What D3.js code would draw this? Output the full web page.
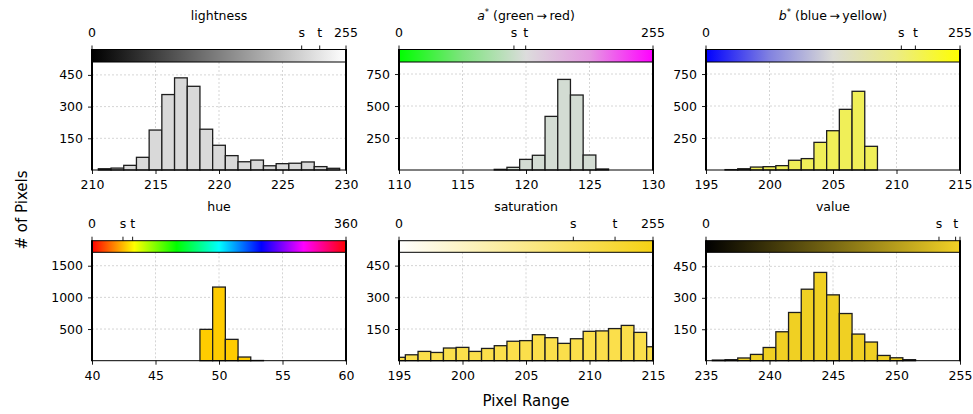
<!DOCTYPE html>
<html>
<head>
<meta charset="utf-8">
<script src="https://cdn.jsdelivr.net/npm/d3@7"></script>
<style>
  body { margin: 0; background: #fff; }
  text { font-family: "DejaVu Sans", sans-serif; fill: #000; }
</style>
</head>
<body>
<svg class="entry-point"></svg>
<script>
/* data: one histogram per channel, bins of width 1 centred on integers */
const titles = ['lightness', 'a*', 'b*', 'hue', 'saturation', 'value']
const xRanges = [[210, 230], [110, 130], [195, 215], [40, 60], [195, 215], [235, 255]]
const xTicks = [
  [210, 215, 220, 225, 230], [110, 115, 120, 125, 130], [195, 200, 205, 210, 215],
  [40, 45, 50, 55, 60], [195, 200, 205, 210, 215], [235, 240, 245, 250, 255]
]
const yMax = [511, 844, 844, 1712, 513, 517]
const yTicks = [[150, 300, 450], [250, 500, 750], [250, 500, 750], [500, 1000, 1500], [150, 300, 450], [150, 300, 450]]
const firstBin = [211, 118, 197, 49, 195, 236]
const lightnessCounts = [6, 9, 22, 60, 189, 357, 436, 396, 193, 117, 68, 39, 47, 20, 30, 32, 38, 16, 8]
const aCounts = [5, 21, 83, 115, 419, 708, 586, 117, 8]
const bCounts = [3, 10, 23, 26, 34, 76, 89, 216, 307, 474, 615, 185]
const hueCounts = [495, 1163, 337, 58, 3]
const saturationCounts = [16, 28, 44, 39, 60, 63, 44, 58, 71, 92, 95, 123, 109, 82, 104, 139, 141, 152, 167, 134, 66]
const valueCounts = [3, 5, 13, 30, 63, 138, 230, 341, 421, 314, 225, 127, 89, 25, 14, 5]
const counts = [lightnessCounts, aCounts, bCounts, hueCounts, saturationCounts, valueCounts]
// colour bar range and the s / t markers on it
const barMax = [255, 255, 255, 360, 255, 255]
const barMaxLabels = ['255', '255', '255', '360', '255', '']
const sValues = [210.5, 115.4, 196.1, 43.9, 175, 233.9]
const tValues = [228.6, 127.2, 210.2, 57.6, 216.9, 250.6]
const fills = ['#d9d9d9', '#d3dcd3', '#f0ef58', '#ffcc00', '#fbdf4b', '#f0d023']
const gradients = [
  ['#000000', '#ffffff'],
  ['#00ff00', '#7fe37f', '#dcdcdc', '#e59ae2', '#ff00ff'],
  ['#0000ff', '#8282e0', '#dcdcd6', '#ecec84', '#ffff00'],
  ['#ff0000', '#ffff00', '#00ff00', '#00ffff', '#0000ff', '#ff00ff', '#ff0000'],
  ['#ffffff', '#f6d214'],
  ['#000000', '#f3d226']
]

const W = 973, H = 414
const cols = [[92, 346], [399, 653], [706, 960]]
const rows = [
  { title: 20, labels: 36.5, cbTop: 49.5, top: 62, bottom: 170, xlab: 188.5 },
  { title: 211, labels: 228, cbTop: 240.7, top: 252.3, bottom: 360.7, xlab: 380.5 }
]

const root = d3.select('.entry-point')
  .attr('width', W)
  .attr('height', H)
const defs = root.append('defs')

titles.forEach((title, i) => {
  const [x0, x1] = cols[i % 3]
  const r = rows[Math.floor(i / 3)]
  const g = root.append('g')
  const x = d3.scaleLinear().domain(xRanges[i]).range([x0, x1])
  const y = d3.scaleLinear().domain([0, yMax[i]]).range([r.bottom, r.top])
  const cx = d3.scaleLinear().domain([0, barMax[i]]).range([x0, x1])

  // grid
  g.append('g').selectAll('line').data(xTicks[i].slice(1, -1)).enter().append('line')
    .attr('x1', d => x(d)).attr('x2', d => x(d)).attr('y1', r.top).attr('y2', r.bottom)
    .attr('stroke', '#b8b8b8').attr('stroke-width', 0.6).attr('stroke-dasharray', '2,2')
  g.append('g').selectAll('line').data(yTicks[i]).enter().append('line')
    .attr('x1', x0).attr('x2', x1).attr('y1', d => y(d)).attr('y2', d => y(d))
    .attr('stroke', '#b8b8b8').attr('stroke-width', 0.6).attr('stroke-dasharray', '2,2')

  // bars
  defs.append('clipPath').attr('id', 'clip' + i).append('rect')
    .attr('x', x0).attr('y', r.top - 2).attr('width', x1 - x0).attr('height', r.bottom - r.top + 4)
  g.append('g').attr('clip-path', `url(#clip${i})`)
    .selectAll('rect').data(counts[i]).enter().append('rect')
    .attr('x', (d, k) => x(firstBin[i] + k - 0.5))
    .attr('width', (d, k) => x(firstBin[i] + k + 0.5) - x(firstBin[i] + k - 0.5))
    .attr('y', d => y(d))
    .attr('height', d => y(0) - y(d))
    .attr('fill', fills[i])
    .attr('stroke', '#1e1e1e')
    .attr('stroke-width', 1.3)

  // axes
  const xAxis = g.append('g').attr('transform', `translate(0,${r.bottom})`)
    .call(d3.axisBottom(x).tickValues(xTicks[i]).tickSize(4).tickPadding(4))
  const yAxis = g.append('g').attr('transform', `translate(${x0},0)`)
    .call(d3.axisLeft(y).tickValues(yTicks[i]).tickFormat(d3.format('d')).tickSize(4).tickPadding(5))
  ;[xAxis, yAxis].forEach(a => {
    a.select('.domain').remove()
    a.selectAll('line').attr('stroke', '#000').attr('stroke-width', 0.9)
    a.selectAll('text').attr('font-size', '12.5px').attr('font-family', '"DejaVu Sans", sans-serif')
  })
  xAxis.selectAll('text').attr('dy', null).attr('y', r.xlab - r.bottom)

  // colour bar
  const grad = defs.append('linearGradient').attr('id', 'grad' + i)
  grad.selectAll('stop').data(gradients[i]).enter().append('stop')
    .attr('offset', (d, k) => k / (gradients[i].length - 1))
    .attr('stop-color', d => d)
  g.append('rect')
    .attr('x', x0).attr('y', r.cbTop).attr('width', x1 - x0).attr('height', r.top - r.cbTop)
    .attr('fill', `url(#grad${i})`).attr('stroke', '#000').attr('stroke-width', 1)

  const marks = [[0, '0'], [sValues[i], 's'], [tValues[i], 't'], [barMax[i], barMaxLabels[i]]]
  g.append('g').selectAll('line').data(marks).enter().append('line')
    .attr('x1', d => cx(d[0])).attr('x2', d => cx(d[0]))
    .attr('y1', r.cbTop).attr('y2', r.cbTop - 4)
    .attr('stroke', '#000').attr('stroke-width', 0.9)
  g.append('g').selectAll('text').data(marks.filter(d => d[1])).enter().append('text')
    .attr('x', d => cx(d[0])).attr('y', r.labels)
    .attr('text-anchor', 'middle').attr('font-size', '12.5px')
    .text(d => d[1])

  // spines
  g.append('line').attr('x1', x0).attr('x2', x1).attr('y1', r.bottom).attr('y2', r.bottom)
    .attr('stroke', '#000').attr('stroke-width', 1)
  g.selectAll('.spine').data([x0, x1]).enter().append('line')
    .attr('x1', d => d).attr('x2', d => d).attr('y1', r.cbTop - 0.5).attr('y2', r.bottom + 0.5)
    .attr('stroke', '#000').attr('stroke-width', 2)

  // title
  const t = g.append('text')
    .attr('x', (x0 + x1) / 2).attr('y', r.title)
    .attr('text-anchor', 'middle').attr('font-size', '12.5px')
  if (title === 'a*' || title === 'b*') {
    t.append('tspan').attr('font-style', 'italic').text(title[0])
    t.append('tspan').attr('font-size', '8.5px').attr('dy', -5).text('*')
    t.append('tspan').attr('dy', 5)
      .text(title === 'a*' ? ' (green\u2009\u2192\u2009red)' : ' (blue\u2009\u2192\u2009yellow)')
  } else {
    t.text(title)
  }
})

root.append('text')
  .attr('x', (cols[1][0] + cols[1][1]) / 2).attr('y', 405.5)
  .attr('text-anchor', 'middle').attr('font-size', '15px')
  .text('Pixel Range')
root.append('text')
  .attr('transform', 'translate(27,210) rotate(-90)')
  .attr('text-anchor', 'middle').attr('font-size', '15px')
  .text('# of Pixels')
</script>
</body>
</html>
